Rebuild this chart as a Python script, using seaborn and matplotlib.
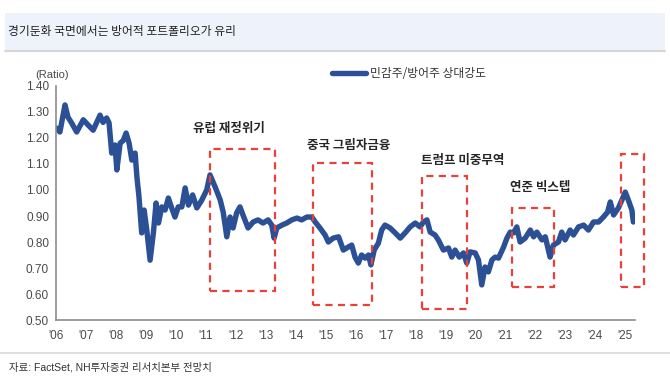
import matplotlib
matplotlib.use("Agg")
import matplotlib.pyplot as plt
from matplotlib.patches import Rectangle
import seaborn as sns
import pandas as pd

# relative strength of cyclicals vs defensives (year fraction, ratio)
dates = [
    2006.02, 2006.13, 2006.30, 2006.40, 2006.52, 2006.69, 2006.91, 2007.07, 2007.24,
    2007.47, 2007.57, 2007.69, 2007.77, 2007.86, 2007.97, 2008.03, 2008.14, 2008.24,
    2008.34, 2008.44, 2008.53, 2008.64, 2008.70, 2008.77, 2008.86, 2008.94, 2009.03,
    2009.14, 2009.25, 2009.34, 2009.42, 2009.53, 2009.64, 2009.75, 2009.86, 2009.97,
    2010.08, 2010.20, 2010.31, 2010.42, 2010.56, 2010.70, 2010.86, 2011.03, 2011.14,
    2011.31, 2011.48, 2011.58, 2011.70, 2011.81, 2011.91, 2012.03, 2012.14, 2012.24,
    2012.41, 2012.58, 2012.74, 2012.91, 2013.08, 2013.20, 2013.28, 2013.37, 2013.54,
    2013.70, 2013.87, 2014.04, 2014.20, 2014.37, 2014.54, 2014.65, 2014.81, 2014.98,
    2015.09, 2015.25, 2015.43, 2015.59, 2015.76, 2015.87, 2015.98, 2016.09, 2016.20,
    2016.32, 2016.43, 2016.51, 2016.62, 2016.76, 2016.87, 2016.98, 2017.15, 2017.32,
    2017.49, 2017.65, 2017.82, 2017.99, 2018.15, 2018.26, 2018.38, 2018.49, 2018.65,
    2018.76, 2018.93, 2019.10, 2019.21, 2019.32, 2019.46, 2019.60, 2019.71, 2019.82,
    2019.99, 2020.10, 2020.21, 2020.32, 2020.43, 2020.55, 2020.66, 2020.77, 2020.94,
    2021.05, 2021.16, 2021.27, 2021.38, 2021.49, 2021.66, 2021.83, 2021.94, 2022.05,
    2022.22, 2022.33, 2022.49, 2022.60, 2022.77, 2022.88, 2022.99, 2023.16, 2023.27,
    2023.44, 2023.61, 2023.77, 2023.94, 2024.11, 2024.27, 2024.41, 2024.50, 2024.61,
    2024.77, 2024.89, 2025.00, 2025.10, 2025.22, 2025.27,
]
ratio = [
    1.238, 1.223, 1.327, 1.280, 1.258, 1.223, 1.270, 1.250, 1.230,
    1.288, 1.260, 1.277, 1.258, 1.142, 1.173, 1.077, 1.180, 1.190,
    1.219, 1.180, 1.115, 1.142, 1.050, 0.973, 0.835, 0.923, 0.846,
    0.730, 0.835, 0.950, 0.873, 0.935, 0.923, 0.969, 0.931, 0.896,
    0.935, 0.935, 1.008, 0.942, 0.981, 0.931, 0.960, 1.000, 1.058,
    1.012, 0.962, 0.915, 0.820, 0.896, 0.854, 0.912, 0.935, 0.904,
    0.854, 0.877, 0.885, 0.873, 0.885, 0.865, 0.815, 0.854, 0.865,
    0.873, 0.885, 0.892, 0.885, 0.896, 0.896, 0.877, 0.854, 0.827,
    0.800, 0.815, 0.820, 0.769, 0.781, 0.788, 0.742, 0.719, 0.750,
    0.738, 0.750, 0.712, 0.769, 0.796, 0.846, 0.865, 0.854, 0.835,
    0.815, 0.835, 0.858, 0.873, 0.858, 0.877, 0.885, 0.838, 0.827,
    0.808, 0.769, 0.777, 0.742, 0.769, 0.742, 0.758, 0.719, 0.762,
    0.758, 0.731, 0.635, 0.704, 0.685, 0.731, 0.742, 0.738, 0.781,
    0.815, 0.838, 0.835, 0.858, 0.800, 0.815, 0.846, 0.820, 0.838,
    0.808, 0.820, 0.742, 0.788, 0.800, 0.838, 0.808, 0.846, 0.827,
    0.858, 0.865, 0.846, 0.877, 0.877, 0.896, 0.915, 0.954, 0.904,
    0.931, 0.962, 0.992, 0.962, 0.923, 0.877,
]

# highlighted episodes
events = ["유럽 재정위기", "중국 그림자금융", "트럼프 미중무역", "연준 빅스텝", ""]
box_start = [2011.15, 2014.58, 2018.22, 2021.23, 2024.87]
box_end = [2013.30, 2016.55, 2019.72, 2022.63, 2025.63]
box_low = [0.61, 0.558, 0.542, 0.627, 0.627]
box_high = [1.158, 1.104, 1.054, 0.931, 1.138]
label_x = [2010.58, 2014.38, 2018.18, 2021.16, 0]
label_y = [1.235, 1.173, 1.112, 1.008, 0]

years = list(range(2006, 2026))
year_labels = ["'{:02d}".format(y % 100) for y in years]
yticks = [0.5, 0.6, 0.7, 0.8, 0.9, 1.0, 1.1, 1.2, 1.3, 1.4]

df = pd.DataFrame({"date": dates, "ratio": ratio})

sns.set_style("white")
plt.rcParams["font.family"] = ["Liberation Sans", "Noto Sans CJK KR"]

fig = plt.figure(figsize=(6.7, 3.87), dpi=100)
ax = fig.add_axes([0.0836, 0.1731, 0.8644, 0.6047])

sns.lineplot(data=df, x="date", y="ratio", ax=ax, color="#2C5096", linewidth=3.9,
             label="민감주/방어주 상대강도")

for s, e, lo, hi in zip(box_start, box_end, box_low, box_high):
    ax.add_patch(Rectangle((s, lo), e - s, hi - lo, fill=False, edgecolor="#E8403A",
                           linewidth=1.6, linestyle=(0, (3.2, 2.4)), zorder=3,
                           clip_on=False))

for name, lx, ly in zip(events, label_x, label_y):
    if name:
        ax.text(lx, ly, name, ha="left", va="center", fontsize=9, fontweight="bold",
                color="#262626", family=["Noto Sans CJK KR"])

ax.set_xlim(2006, 2025.33)
ax.set_ylim(0.5, 1.4)
ax.set_xticks(years)
ax.set_xticklabels(year_labels)
ax.set_yticks(yticks)
ax.set_yticklabels(["{:.2f}".format(v) for v in yticks])
ax.set_xlabel("")
ax.set_ylabel("")
for side in ["top", "right"]:
    ax.spines[side].set_visible(False)
for side in ["left", "bottom"]:
    ax.spines[side].set_color("#8C8C8C")
    ax.spines[side].set_linewidth(1.2)
ax.tick_params(axis="both", direction="in", length=4, width=1, color="#8C8C8C",
               labelsize=8.5, labelcolor="#4A4A4A")
ax.tick_params(axis="x", pad=7)
ax.tick_params(axis="y", pad=5)

ax.text(-0.035, 1.045, "(Ratio)", transform=ax.transAxes, ha="left", va="center",
        fontsize=8, color="#4A4A4A")

leg = ax.legend(loc="center left", bbox_to_anchor=(0.4865, 0.811),
                bbox_transform=fig.transFigure, frameon=False, borderpad=0,
                handlelength=2.9, handletextpad=0.3,
                prop={"family": ["Noto Sans CJK KR"], "size": 8.5})
for t in leg.get_texts():
    t.set_color("#333333")

# title bar
fig.patches.append(Rectangle((0.008, 0.871), 0.984, 0.095, transform=fig.transFigure,
                             facecolor="#EEF2FA", edgecolor="none", zorder=0))
fig.lines.append(plt.Line2D([0.008, 0.992], [0.869, 0.869], transform=fig.transFigure,
                            color="#D6D6D6", linewidth=1.5))
fig.text(0.012, 0.918, "경기둔화 국면에서는 방어적 포트폴리오가 유리", ha="left", va="center",
         fontsize=8.5, color="#222222", family=["Noto Sans CJK KR"])

# source line
fig.lines.append(plt.Line2D([0.0, 1.0], [0.088, 0.088], transform=fig.transFigure,
                            color="#D9D9D9", linewidth=1.2))
fig.text(0.014, 0.052, "자료: FactSet, NH투자증권 리서치본부 전망치", ha="left", va="center",
         fontsize=7.5, color="#333333")

fig.savefig("out.png", dpi=100)
